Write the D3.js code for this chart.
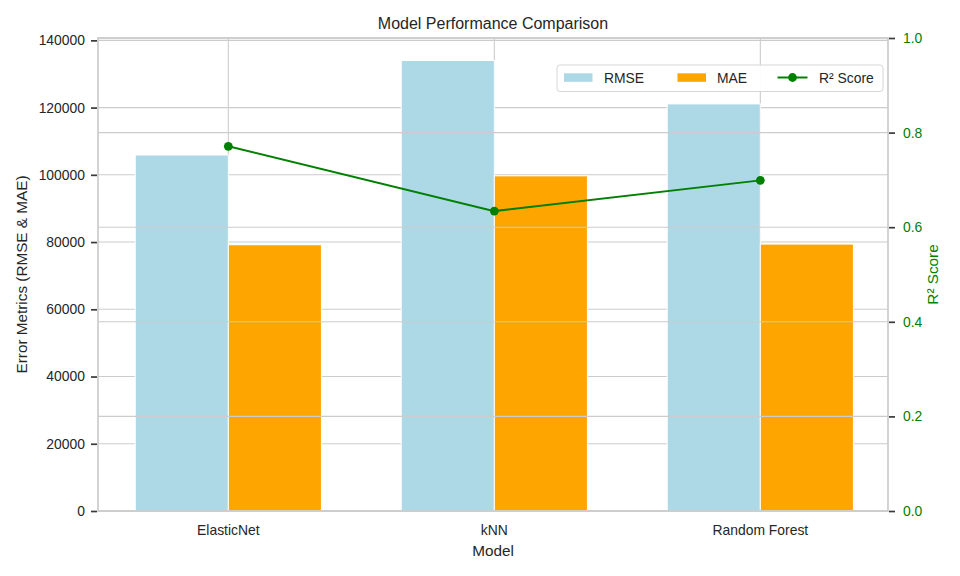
<!DOCTYPE html>
<html>
<head>
<meta charset="utf-8">
<script src="https://cdn.jsdelivr.net/npm/d3@7"></script>
<style>
  body { margin: 0; background: #fff; }
  text { font-family: "Liberation Sans", Arial, sans-serif; }
</style>
</head>
<body>
<svg class="chart" width="960" height="576"></svg>
<script>
// data
const models = ['ElasticNet', 'kNN', 'Random Forest'];
const rmse = [105900, 134000, 121100];
const mae = [79200, 99700, 79400];
const r2 = [0.771, 0.634, 0.699];
const leftTicks = [0, 20000, 40000, 60000, 80000, 100000, 120000, 140000];
const rightTicks = [0, 0.2, 0.4, 0.6, 0.8, 1.0];

const plotLeft = 98, plotRight = 888, plotTop = 38, plotBottom = 511;
const barWidth = 0.35;
const gridColor = '#cccccc';
const textColor = '#262626';
const green = '#008000';

const svg = d3.select('.chart');

const x = d3.scaleLinear()
    .domain([-0.49, models.length - 1 + 0.48])
    .range([plotLeft, plotRight]);

const yLeft = d3.scaleLinear()
    .domain([0, d3.max(rmse) * 1.05])
    .range([plotBottom, plotTop]);

const yRight = d3.scaleLinear()
    .domain([0, 1])
    .range([plotBottom, plotTop]);

// left grid (behind bars)
svg.append('g')
    .selectAll('line')
    .data(leftTicks)
    .enter().append('line')
    .attr('x1', plotLeft).attr('x2', plotRight)
    .attr('y1', d => yLeft(d)).attr('y2', d => yLeft(d))
    .attr('stroke', gridColor)
    .attr('stroke-width', 1.1);

// vertical grid at categories
svg.append('g')
    .selectAll('line')
    .data(models)
    .enter().append('line')
    .attr('x1', (d, i) => x(i)).attr('x2', (d, i) => x(i))
    .attr('y1', plotTop).attr('y2', plotBottom)
    .attr('stroke', gridColor)
    .attr('stroke-width', 1.1);

// bars
svg.append('g')
    .selectAll('rect')
    .data(rmse)
    .enter().append('rect')
    .attr('x', (d, i) => x(i - barWidth))
    .attr('width', x(barWidth) - x(0))
    .attr('y', d => yLeft(d))
    .attr('height', d => plotBottom - yLeft(d))
    .attr('fill', 'lightblue')
    .attr('stroke', 'white')
    .attr('stroke-width', 1);

svg.append('g')
    .selectAll('rect')
    .data(mae)
    .enter().append('rect')
    .attr('x', (d, i) => x(i))
    .attr('width', x(barWidth) - x(0))
    .attr('y', d => yLeft(d))
    .attr('height', d => plotBottom - yLeft(d))
    .attr('fill', 'orange')
    .attr('stroke', 'white')
    .attr('stroke-width', 1);

// right axis grid (drawn over bars, like the twin axis)
svg.append('g')
    .selectAll('line')
    .data(rightTicks)
    .enter().append('line')
    .attr('x1', plotLeft).attr('x2', plotRight)
    .attr('y1', d => yRight(d)).attr('y2', d => yRight(d))
    .attr('stroke', gridColor)
    .attr('stroke-width', 1.1);

// spines
svg.append('rect')
    .attr('x', plotLeft).attr('y', plotTop)
    .attr('width', plotRight - plotLeft).attr('height', plotBottom - plotTop)
    .attr('fill', 'none')
    .attr('stroke', gridColor)
    .attr('stroke-width', 1.7);

// left axis
const leftAxis = d3.axisLeft(yLeft)
    .tickValues(leftTicks)
    .tickFormat(d3.format('d'))
    .tickSize(6)
    .tickPadding(6);

const gl = svg.append('g')
    .attr('transform', 'translate(' + (plotLeft - 1) + ',0)')
    .call(leftAxis);
gl.select('.domain').remove();
gl.selectAll('line').attr('stroke', '#3a3a3a').attr('stroke-width', 1.7);
gl.selectAll('text').attr('fill', textColor).attr('font-size', 13.9)
    .attr('font-family', '"Liberation Sans", Arial, sans-serif');

// right axis
const rightAxis = d3.axisRight(yRight)
    .tickValues(rightTicks)
    .tickFormat(d3.format('.1f'))
    .tickSize(6)
    .tickPadding(8);

const gr = svg.append('g')
    .attr('transform', 'translate(' + (plotRight + 1) + ',0)')
    .call(rightAxis);
gr.select('.domain').remove();
gr.selectAll('line').attr('stroke', '#3a3a3a').attr('stroke-width', 1.7);
gr.selectAll('text').attr('fill', green).attr('font-size', 13.9)
    .attr('font-family', '"Liberation Sans", Arial, sans-serif');

// x tick labels
svg.append('g')
    .selectAll('text')
    .data(models)
    .enter().append('text')
    .attr('x', (d, i) => x(i))
    .attr('y', 535)
    .attr('text-anchor', 'middle')
    .attr('font-size', 13.9)
    .attr('fill', textColor)
    .text(d => d);

// R2 line
const line = d3.line()
    .x((d, i) => x(i))
    .y(d => yRight(d));

svg.append('path')
    .attr('d', line(r2))
    .attr('fill', 'none')
    .attr('stroke', green)
    .attr('stroke-width', 2);

svg.append('g')
    .selectAll('circle')
    .data(r2)
    .enter().append('circle')
    .attr('cx', (d, i) => x(i))
    .attr('cy', d => yRight(d))
    .attr('r', 4.4)
    .attr('fill', green);

// titles and labels
svg.append('text')
    .attr('x', (plotLeft + plotRight) / 2)
    .attr('y', 29)
    .attr('text-anchor', 'middle')
    .attr('font-size', 16)
    .attr('fill', textColor)
    .text('Model Performance Comparison');

svg.append('text')
    .attr('x', (plotLeft + plotRight) / 2)
    .attr('y', 556)
    .attr('text-anchor', 'middle')
    .attr('font-size', 15.3)
    .attr('fill', textColor)
    .text('Model');

svg.append('text')
    .attr('transform', 'translate(27,' + ((plotTop + plotBottom) / 2) + ') rotate(-90)')
    .attr('text-anchor', 'middle')
    .attr('font-size', 15.3)
    .attr('fill', textColor)
    .text('Error Metrics (RMSE & MAE)');

svg.append('text')
    .attr('transform', 'translate(938,' + ((plotTop + plotBottom) / 2) + ') rotate(-90)')
    .attr('text-anchor', 'middle')
    .attr('font-size', 15.3)
    .attr('fill', green)
    .text('R² Score');

// legend
const legend = svg.append('g').attr('transform', 'translate(557,65)');
legend.append('rect')
    .attr('width', 326).attr('height', 26.5)
    .attr('rx', 3)
    .attr('fill', 'white')
    .attr('fill-opacity', 0.9)
    .attr('stroke', '#d6d6d6')
    .attr('stroke-width', 1);

legend.append('rect')
    .attr('x', 7).attr('y', 8.3)
    .attr('width', 28.5).attr('height', 8.5)
    .attr('fill', 'lightblue');
legend.append('text')
    .attr('x', 47).attr('y', 18)
    .attr('font-size', 13.9).attr('fill', textColor)
    .text('RMSE');

legend.append('rect')
    .attr('x', 120.5).attr('y', 8.3)
    .attr('width', 28.5).attr('height', 8.5)
    .attr('fill', 'orange');
legend.append('text')
    .attr('x', 160).attr('y', 18)
    .attr('font-size', 13.9).attr('fill', textColor)
    .text('MAE');

legend.append('line')
    .attr('x1', 220.5).attr('x2', 250.5)
    .attr('y1', 12.5).attr('y2', 12.5)
    .attr('stroke', green).attr('stroke-width', 2);
legend.append('circle')
    .attr('cx', 235.5).attr('cy', 12.5).attr('r', 4.4)
    .attr('fill', green);
legend.append('text')
    .attr('x', 262).attr('y', 18)
    .attr('font-size', 13.9).attr('fill', textColor)
    .text('R² Score');
</script>
</body>
</html>
